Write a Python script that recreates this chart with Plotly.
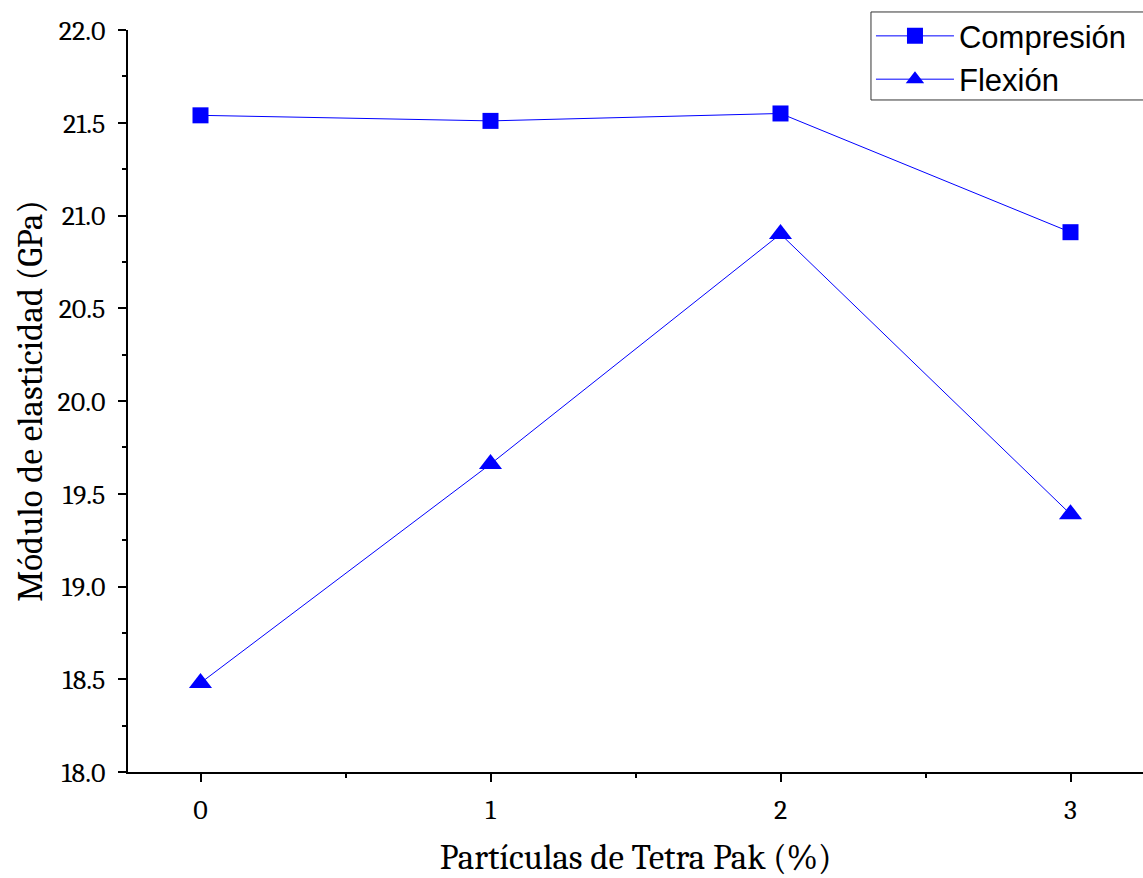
import plotly.graph_objects as go

# Tetra Pak particle content (%)
particulas = [0, 1, 2, 3]
# Elastic modulus (GPa)
compresion = [21.54, 21.51, 21.55, 20.91]
flexion = [18.48, 19.66, 20.90, 19.39]

azul = "#0000FF"
serif = "Cambria, Caladea, 'Liberation Serif', serif"
sans = "Arial, 'Liberation Sans', sans-serif"

fig = go.Figure()
fig.add_trace(go.Scatter(
    x=particulas, y=compresion, name="Compresión",
    mode="lines+markers",
    line=dict(color=azul, width=1),
    marker=dict(symbol="square", size=16, color=azul),
))
fig.add_trace(go.Scatter(
    x=particulas, y=flexion, name="Flexión",
    mode="lines+markers",
    line=dict(color=azul, width=1),
    marker=dict(symbol="triangle-up", size=20, color=azul),
))

# legend frame
fig.add_shape(
    type="rect", xref="paper", yref="paper",
    x0=0.732, x1=1.02, y0=0.9057, y1=1.0243,
    line=dict(color="#333333", width=1), fillcolor="white", layer="below",
)

fig.update_layout(
    width=1143, height=878,
    margin=dict(l=128, r=0, t=30, b=106),
    paper_bgcolor="white", plot_bgcolor="white",
    font=dict(family=serif, color="black"),
    showlegend=True,
    legend=dict(
        x=0.732, y=1.028, xanchor="left", yanchor="top",
        bgcolor="rgba(0,0,0,0)", borderwidth=0,
        font=dict(family=sans, size=31, color="black"),
        itemwidth=78, tracegroupgap=0,
    ),
    xaxis=dict(
        range=[-0.25, 3.25], tickvals=particulas, ticktext=[str(v) for v in particulas],
        showgrid=False, zeroline=False,
        showline=True, linecolor="black", linewidth=2,
        ticks="outside", ticklen=8, tickwidth=2, tickcolor="black",
        tickfont=dict(family=serif, size=28),
        ticklabelstandoff=3,
        minor=dict(dtick=0.5, ticks="outside", ticklen=4, tickwidth=2, tickcolor="black", showgrid=False),
        title=dict(text="Partículas de Tetra Pak (%)", font=dict(family=serif, size=35), standoff=22),
    ),
    yaxis=dict(
        range=[18.0, 22.0], dtick=0.5, tickformat=".1f",
        showgrid=False, zeroline=False,
        showline=True, linecolor="black", linewidth=2,
        ticks="outside", ticklen=8, tickwidth=2, tickcolor="black",
        tickfont=dict(family=serif, size=28),
        ticklabelstandoff=7,
        minor=dict(dtick=0.25, ticks="outside", ticklen=4, tickwidth=2, tickcolor="black", showgrid=False),
        title=dict(text="Módulo de elasticidad (GPa)", font=dict(family=serif, size=35), standoff=4),
    ),
)

fig.write_html("out.html")
